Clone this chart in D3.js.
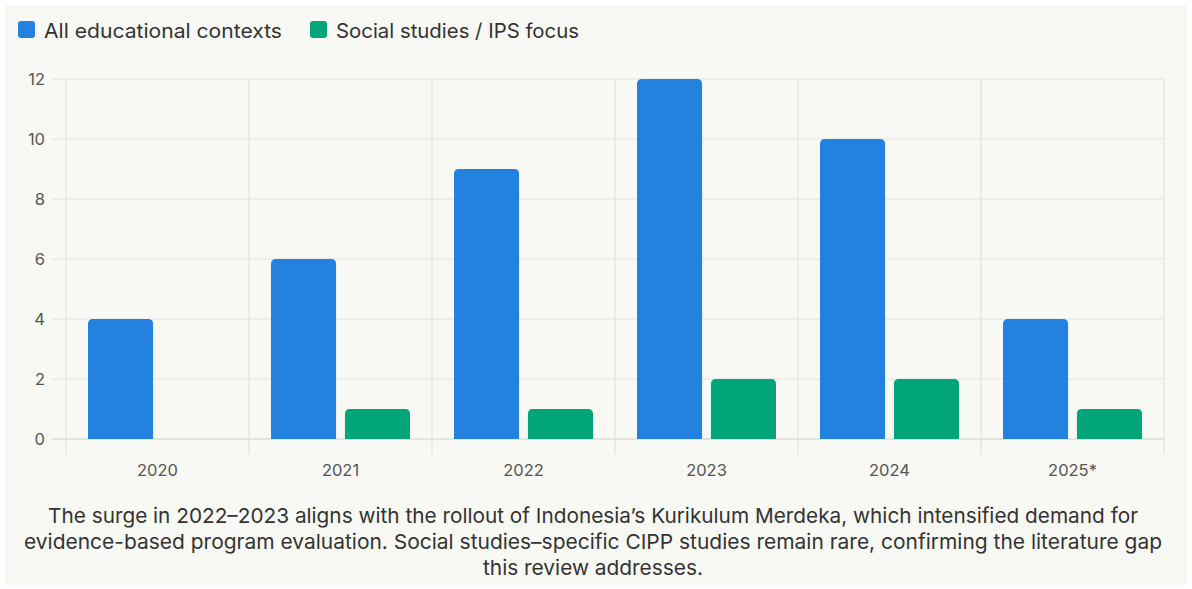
<!DOCTYPE html>
<html>
<head>
<meta charset="utf-8">
<script src="https://cdn.jsdelivr.net/npm/d3@7"></script>
<style>
  html, body { margin: 0; padding: 0; background: #ffffff; }
  #panel { position: absolute; left: 5px; top: 5px; width: 1182px; height: 580px; background: #f8f8f4; }
  svg { position: absolute; left: 0; top: 0; }
</style>
</head>
<body>
<div id="panel"></div>
<svg id="chart" width="1192" height="589"></svg>
<script>
const categories = ["2020", "2021", "2022", "2023", "2024", "2025*"];
const seriesNames = ["All educational contexts", "Social studies / IPS focus"];
const allContexts = [4, 6, 9, 12, 10, 4];
const socialStudies = [0, 1, 1, 2, 2, 1];
const yTicks = [0, 2, 4, 6, 8, 10, 12];
const colors = ["#2382e0", "#02a578"];
const caption = [
  "The surge in 2022\u20132023 aligns with the rollout of Indonesia\u2019s Kurikulum Merdeka, which intensified demand for",
  "evidence-based program evaluation. Social studies\u2013specific CIPP studies remain rare, confirming the literature gap",
  "this review addresses."
];

(function () {
const svg = d3.select("#chart");
const font = "Inter, 'Noto Sans', sans-serif";
const pLeft = 66, pRight = 1164, pTop = 79, pBottom = 439;

const x = d3.scaleBand().domain(categories).range([pLeft, pRight]).paddingInner(0).paddingOuter(0);
const x1 = d3.scaleBand().domain([0, 1]).range([22, x.bandwidth() - 22]).paddingInner(0.12);
const y = d3.scaleLinear().domain([0, 12]).range([pBottom, pTop]);

// horizontal grid
svg.append("g").selectAll("line").data(yTicks).join("line")
  .attr("x1", pLeft - 14).attr("x2", pRight)
  .attr("y1", d => y(d)).attr("y2", d => y(d))
  .attr("stroke", d => d === 0 ? "#d2d2cc" : "#e4e4de").attr("stroke-width", 1.2);

// vertical grid at band boundaries
const bounds = categories.map(c => x(c)).concat([pRight]);
svg.append("g").selectAll("line").data(bounds).join("line")
  .attr("x1", d => d).attr("x2", d => d)
  .attr("y1", pTop).attr("y2", pBottom + 15)
  .attr("stroke", "#e4e4de").attr("stroke-width", 1.2);

// y tick labels
svg.append("g").selectAll("text").data(yTicks).join("text")
  .attr("x", 45).attr("y", d => y(d)).attr("dy", "0.36em")
  .attr("text-anchor", "end").attr("font-family", font).attr("font-size", 16.5)
  .attr("fill", "#555").text(d => d);

// x tick labels
svg.append("g").selectAll("text").data(categories).join("text")
  .attr("x", d => x(d) + x.bandwidth() / 2).attr("y", 476)
  .attr("text-anchor", "middle").attr("font-family", font).attr("font-size", 16.5)
  .attr("fill", "#555").text(d => d);

function topRounded(x0, y0, w, h, r) {
  if (h <= 0) return "";
  r = Math.min(r, h, w / 2);
  return `M${x0},${y0 + h}V${y0 + r}Q${x0},${y0} ${x0 + r},${y0}H${x0 + w - r}Q${x0 + w},${y0} ${x0 + w},${y0 + r}V${y0 + h}Z`;
}

const series = [allContexts, socialStudies];
series.forEach((vals, si) => {
  svg.append("g").selectAll("path").data(categories).join("path")
    .attr("d", (c, i) => {
      const bx = x(c) + x1(si);
      const by = y(vals[i]);
      return topRounded(bx, by, x1.bandwidth(), y(0) - by, 5);
    })
    .attr("fill", colors[si]);
});

// legend
const legendX = [18, 310];
const legendW = [238, 243];
seriesNames.forEach((n, i) => {
  svg.append("rect").attr("x", legendX[i]).attr("y", 21).attr("width", 17).attr("height", 17)
    .attr("rx", 3).attr("fill", colors[i]);
  svg.append("text").attr("x", legendX[i] + 26).attr("y", 37.5)
    .attr("font-family", font).attr("font-size", 20).attr("fill", "#333")
    .attr("textLength", legendW[i]).attr("lengthAdjust", "spacingAndGlyphs").text(n);
});

// caption
const capW = [1090, 1138, 220];
svg.append("g").selectAll("text").data(caption).join("text")
  .attr("x", 593).attr("y", (d, i) => 523 + i * 26)
  .attr("text-anchor", "middle").attr("font-family", font).attr("font-size", 20.5)
  .attr("textLength", (d, i) => capW[i]).attr("lengthAdjust", "spacingAndGlyphs")
  .attr("fill", "#333").text(d => d);
})();
</script>
</body>
</html>
